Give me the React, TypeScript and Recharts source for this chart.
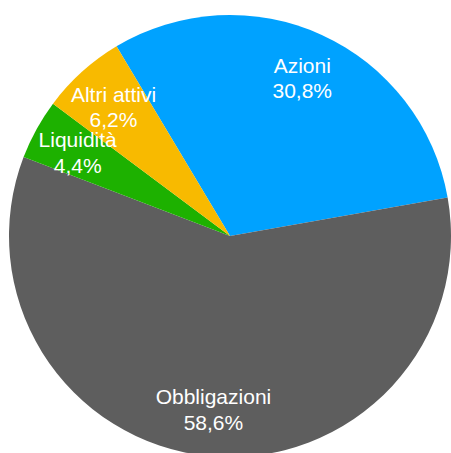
import { PieChart, Pie, Cell } from "recharts";

const categories = ["Azioni", "Obbligazioni", "Liquidità", "Altri attivi"];
const values = [30.8, 58.6, 4.4, 6.2];
const valueLabels = ["30,8%", "58,6%", "4,4%", "6,2%"];
const colors = ["#00A2FF", "#5E5E5E", "#1DB100", "#F8BA00"];

const data = categories.map((name, i) => ({ name, value: values[i], pct: valueLabels[i] }));

const RAD = Math.PI / 180;

function renderLabel(props: any) {
	const { cx, cy, midAngle, outerRadius, index } = props;
	const r = outerRadius * 0.787;
	const x = cx + r * Math.cos(-midAngle * RAD);
	const y = cy + r * Math.sin(-midAngle * RAD);
	return (
		<text
			x={x}
			y={y}
			fill="#FFFFFF"
			textAnchor="middle"
			fontFamily="'Liberation Sans', Arial, sans-serif"
			fontSize={21}
		>
			<tspan x={x} y={y - 12.5} dominantBaseline="central">
				{data[index].name}
			</tspan>
			<tspan x={x} y={y + 13} dominantBaseline="central">
				{data[index].pct}
			</tspan>
		</text>
	);
}

export default function App() {
	return (
		<div style={{ position: "absolute", left: 0, top: 0, width: 451, height: 453, background: "#fff" }}>
			<PieChart width={451} height={453} margin={{ top: 0, right: 0, bottom: 0, left: 0 }}>
				<Pie
					data={data}
					dataKey="value"
					nameKey="name"
					cx={230}
					cy={236}
					outerRadius={221}
					startAngle={120.9}
					endAngle={-239.1}
					stroke="none"
					label={renderLabel}
					labelLine={false}
					isAnimationActive={false}
				>
					{data.map((d, i) => (
						<Cell key={d.name} fill={colors[i]} />
					))}
				</Pie>
			</PieChart>
		</div>
	);
}
